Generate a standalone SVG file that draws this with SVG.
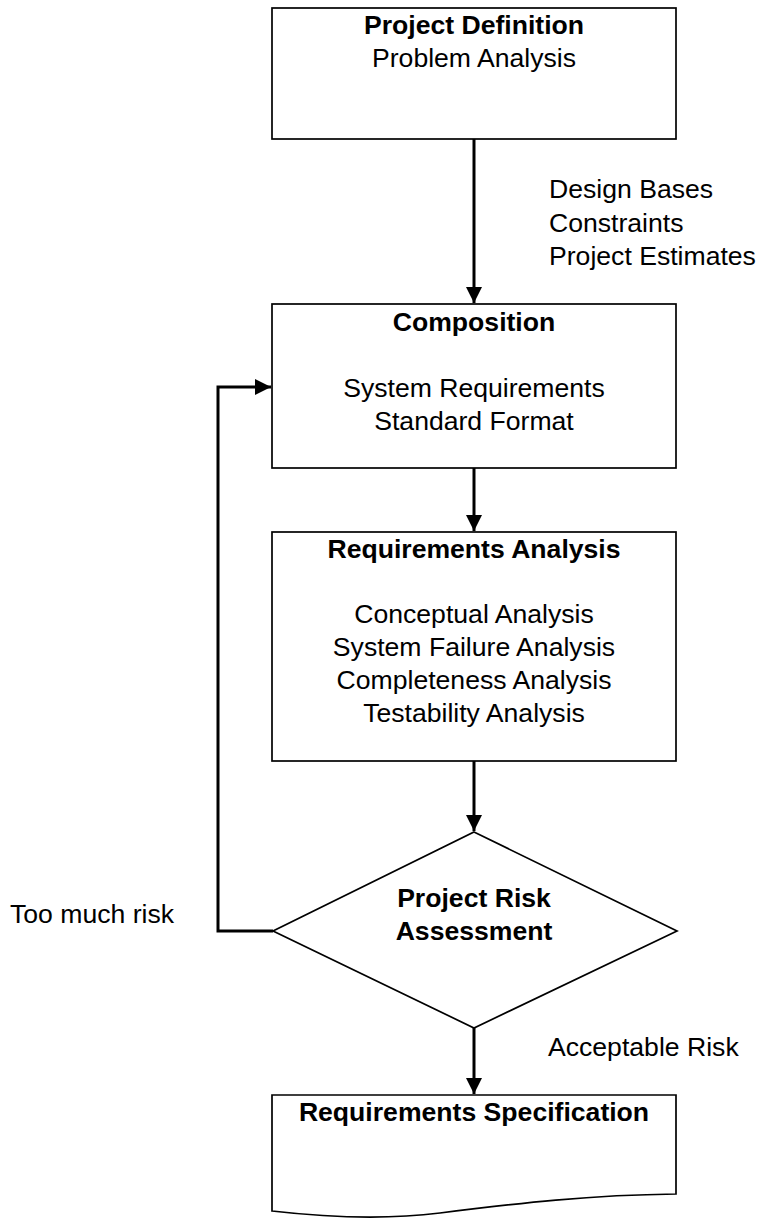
<svg xmlns="http://www.w3.org/2000/svg" width="758" height="1220" viewBox="0 0 758 1220">
<style>
.box{fill:#fff;stroke:#000;stroke-width:1.7}
.t{font-family:"Liberation Sans",Arial,sans-serif;font-size:26.6px;fill:#000}
.b{font-weight:bold}
.c{text-anchor:middle}
.conn{fill:none;stroke:#000;stroke-width:3}
</style>
<defs>
<marker id="ah" markerUnits="userSpaceOnUse" markerWidth="18" markerHeight="18" viewBox="0 0 18 18" refX="17" refY="9" orient="auto">
<path d="M1,1 L17,9 L1,17 Z" fill="#000"/>
</marker>
</defs>
<g id="connectors">
<line class="conn" x1="474" y1="139" x2="474" y2="303" marker-end="url(#ah)"/>
<line class="conn" x1="474" y1="468" x2="474" y2="531" marker-end="url(#ah)"/>
<line class="conn" x1="474" y1="761" x2="474" y2="831" marker-end="url(#ah)"/>
<line class="conn" x1="474" y1="1028" x2="474" y2="1094" marker-end="url(#ah)"/>
<polyline class="conn" points="273,931 218,931 218,387 271,387" marker-end="url(#ah)"/>
</g>
<g id="label-design">
<text class="t" x="549" y="198">Design Bases</text>
<text class="t" x="549" y="232">Constraints</text>
<text class="t" x="549" y="265">Project Estimates</text>
</g>
<g id="label-toomuch"><text class="t" x="10" y="923">Too much risk</text></g>
<g id="label-acceptable"><text class="t" x="548" y="1056">Acceptable Risk</text></g>
<g id="project-definition">
<rect class="box" x="272" y="8" width="404" height="131"/>
<text class="t b c" x="474" y="34">Project Definition</text>
<text class="t c" x="474" y="67">Problem Analysis</text>
</g>
<g id="composition">
<rect class="box" x="272" y="304" width="404" height="164"/>
<text class="t b c" x="474" y="331">Composition</text>
<text class="t c" x="474" y="397">System Requirements</text>
<text class="t c" x="474" y="430">Standard Format</text>
</g>
<g id="requirements-analysis">
<rect class="box" x="272" y="532" width="404" height="229"/>
<text class="t b c" x="474" y="558">Requirements Analysis</text>
<text class="t c" x="474" y="623">Conceptual Analysis</text>
<text class="t c" x="474" y="656">System Failure Analysis</text>
<text class="t c" x="474" y="689">Completeness Analysis</text>
<text class="t c" x="474" y="722">Testability Analysis</text>
</g>
<g id="risk-assessment">
<polygon class="box" points="474,832 677,931 474,1028 273,931"/>
<text class="t b c" x="474" y="907">Project Risk</text>
<text class="t b c" x="474" y="940">Assessment</text>
</g>
<g id="requirements-specification">
<path class="box" d="M272,1095 H676 V1194 C590,1195 520,1203 440,1213 C400,1218 350,1220 272,1211 Z"/>
<text class="t b c" x="474" y="1121">Requirements Specification</text>
</g>
</svg>
